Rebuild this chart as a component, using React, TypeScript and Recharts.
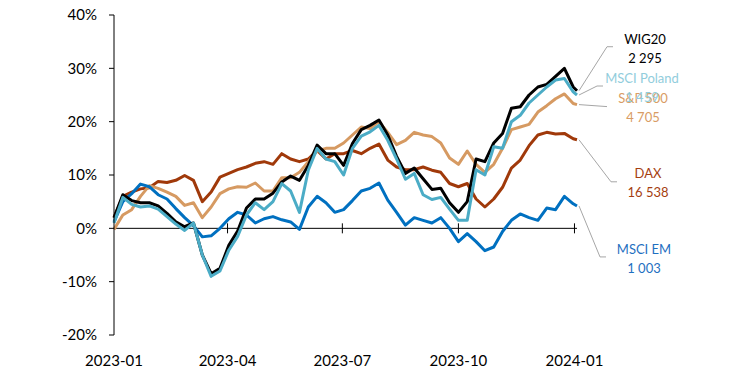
import { LineChart, Line, XAxis, YAxis, ReferenceLine, ReferenceDot, LabelList } from "recharts";

const DAY = 86400000;
// weekly observations from 2023-01-01, plus the last quote on 2024-01-03
const dates = Array.from({ length: 53 }, (_, i) => Date.UTC(2023, 0, 1) + i * 7 * DAY).concat(Date.UTC(2024, 0, 3));

// change since end of 2022, in %
const wig20 = [2.0, 6.3, 5.2, 4.8, 4.8, 4.2, 2.8, 1.2, 0.3, 1.0, -5.0, -8.5, -7.5, -3.2, -0.5, 3.8, 5.5, 5.5, 6.6, 8.7, 9.8, 9.0, 11.8, 15.6, 14.0, 14.0, 11.8, 15.9, 18.5, 19.3, 20.3, 17.5, 13.5, 10.3, 11.3, 9.3, 7.3, 7.5, 4.8, 3.0, 5.0, 13.0, 12.5, 16.0, 17.8, 22.5, 22.8, 25.0, 26.5, 27.0, 28.5, 30.0, 26.5, 25.8];
const msciPoland = [1.0, 5.8, 4.5, 4.0, 4.2, 3.6, 2.2, 0.8, -0.4, 1.0, -5.0, -9.0, -8.0, -4.1, -1.5, 2.5, 4.8, 3.5, 5.0, 8.4, 7.0, 3.0, 10.9, 15.0, 13.0, 12.5, 10.0, 15.0, 17.3, 18.1, 19.3, 16.5, 13.0, 9.2, 10.3, 6.3, 5.4, 5.8, 3.6, 1.5, 1.5, 11.0, 10.0, 15.3, 15.0, 20.0, 21.2, 23.5, 25.0, 26.5, 27.8, 28.1, 25.6, 25.0];
const sp500 = [-0.2, 2.5, 3.5, 6.0, 8.0, 7.5, 6.8, 6.0, 4.3, 4.8, 2.0, 4.0, 6.5, 7.4, 7.8, 7.7, 8.5, 7.0, 7.0, 9.5, 9.5, 10.5, 12.5, 14.5, 15.0, 15.0, 16.0, 17.5, 19.0, 18.7, 20.0, 18.0, 15.7, 16.5, 18.0, 17.5, 17.2, 16.0, 13.2, 12.0, 14.5, 12.0, 10.5, 12.0, 15.0, 18.5, 19.0, 19.5, 21.8, 23.0, 24.3, 25.2, 23.4, 23.2];
const dax = [2.0, 6.0, 6.8, 7.4, 7.6, 8.8, 8.6, 9.0, 9.9, 9.0, 5.0, 6.8, 9.6, 10.3, 11.0, 11.5, 12.2, 12.5, 12.0, 14.0, 13.0, 12.5, 13.0, 14.6, 13.0, 14.0, 14.0, 14.6, 14.0, 15.0, 15.8, 12.8, 11.5, 11.0, 11.0, 11.5, 10.9, 10.5, 8.4, 7.8, 8.4, 5.5, 4.0, 5.5, 7.7, 11.3, 12.8, 15.5, 17.5, 18.0, 17.7, 17.8, 16.8, 16.6];
const msciEm = [1.2, 5.0, 6.5, 8.3, 7.8, 6.3, 5.5, 3.7, 2.0, 0.5, -1.6, -1.4, 0.0, 1.8, 3.0, 2.5, 1.0, 1.8, 2.2, 1.6, 1.2, -0.2, 4.0, 6.0, 4.8, 3.0, 3.5, 5.2, 7.0, 7.5, 8.5, 5.3, 3.0, 0.6, 2.0, 1.5, 1.0, 2.0, 0.0, -2.5, -1.0, -2.5, -4.2, -3.5, -0.6, 1.5, 2.7, 2.0, 1.5, 3.8, 3.5, 6.0, 4.6, 4.2];

const xTicks = [Date.UTC(2023, 0, 1), Date.UTC(2023, 3, 1), Date.UTC(2023, 6, 1), Date.UTC(2023, 9, 1), Date.UTC(2024, 0, 1)];
const yTicks = [-20, -10, 0, 10, 20, 30, 40];

const FONT = "Lato, sans-serif";

const rows = dates.map((d, i) => ({
  date: d,
  wig20: wig20[i],
  msciPoland: msciPoland[i],
  sp500: sp500[i],
  dax: dax[i],
  msciEm: msciEm[i],
}));

// leader: elbow + end of horizontal stub, text: centre of name; all relative to the last point
const series = [
  { key: "dax", name: "DAX", last: "16 538", color: "#A0390A", labelColor: "#A53E10", leader: [[34, 42], [40, 42]], text: [71, 33] },
  { key: "sp500", name: "S&P 500", last: "4 705", color: "#D69A62", labelColor: "#D99C64", leader: [[30, 2], [30, 2]], text: [66, -7] },
  { key: "msciEm", name: "MSCI EM", last: "1 003", color: "#0070C0", labelColor: "#1F70C1", leader: [[23, 51], [29, 51]], text: [67, 43] },
  { key: "wig20", name: "WIG20", last: "2 295", color: "#000000", labelColor: "#000000", leader: [[30, -44], [36, -44]], text: [68, -52] },
  { key: "msciPoland", name: "MSCI Poland", last: "1 459", color: "#4BACC6", labelColor: "#92CDDC", leader: [[20, -9], [26, -9]], text: [65, -17] },
];

const endLabel = (s: any) => (props: any) => {
  const { x, y, index } = props;
  if (index !== dates.length - 1) return null;
  const [e, h] = s.leader;
  return (
    <g>
      <polyline
        points={`${x + 2},${y} ${x + e[0]},${y + e[1]} ${x + h[0]},${y + h[1]}`}
        fill="none"
        stroke="#A6A6A6"
        strokeWidth={1}
      />
      <text x={x + s.text[0]} y={y + s.text[1]} textAnchor="middle" dominantBaseline="central" fill={s.labelColor} fontSize={13} fontFamily={FONT}>
        {s.name}
      </text>
      <text x={x + s.text[0]} y={y + s.text[1] + 19} textAnchor="middle" dominantBaseline="central" fill={s.labelColor} fontSize={13} fontFamily={FONT}>
        {s.last}
      </text>
    </g>
  );
};

const fmtMonth = (t: number) => {
  const d = new Date(t);
  return `${d.getUTCFullYear()}-${String(d.getUTCMonth() + 1).padStart(2, "0")}`;
};

export default function App() {
  return (
    <div style={{ position: "absolute", left: 0, top: 0, width: 750, height: 383, background: "#fff" }}>
      <LineChart width={750} height={383} data={rows} margin={{ top: 15, right: 173, bottom: 18, left: 0 }}>
        <XAxis
          dataKey="date"
          type="number"
          domain={[dates[0], dates[dates.length - 1]]}
          ticks={xTicks}
          interval={0}
          tickFormatter={fmtMonth}
          axisLine={false}
          tickLine={false}
          tickSize={0}
          tickMargin={20}
          height={30}
          tick={{ fill: "#000", fontSize: 15, fontFamily: FONT }}
        />
        <YAxis
          domain={[-20, 40]}
          ticks={yTicks}
          interval={0}
          width={114}
          tickFormatter={(v: number) => `${v}%`}
          axisLine={{ stroke: "#000" }}
          tickLine={{ stroke: "#000" }}
          tickSize={5}
          tickMargin={12}
          tick={{ fill: "#000", fontSize: 15, fontFamily: FONT }}
        />
        <ReferenceLine y={0} stroke="#000" strokeWidth={1} />
        {xTicks.slice(1).map((t) => (
          <ReferenceDot
            key={t}
            x={t}
            y={0}
            shape={(p: any) => <line x1={p.cx} x2={p.cx} y1={p.cy - 5} y2={p.cy + 5} stroke="#000" strokeWidth={1} />}
          />
        ))}
        {series.map((s) => (
          <Line
            key={s.key}
            dataKey={s.key}
            type="linear"
            stroke={s.color}
            strokeWidth={3}
            strokeLinejoin="round"
            dot={false}
            isAnimationActive={false}
          >
            <LabelList dataKey={s.key} content={endLabel(s)} />
          </Line>
        ))}
      </LineChart>
    </div>
  );
}
